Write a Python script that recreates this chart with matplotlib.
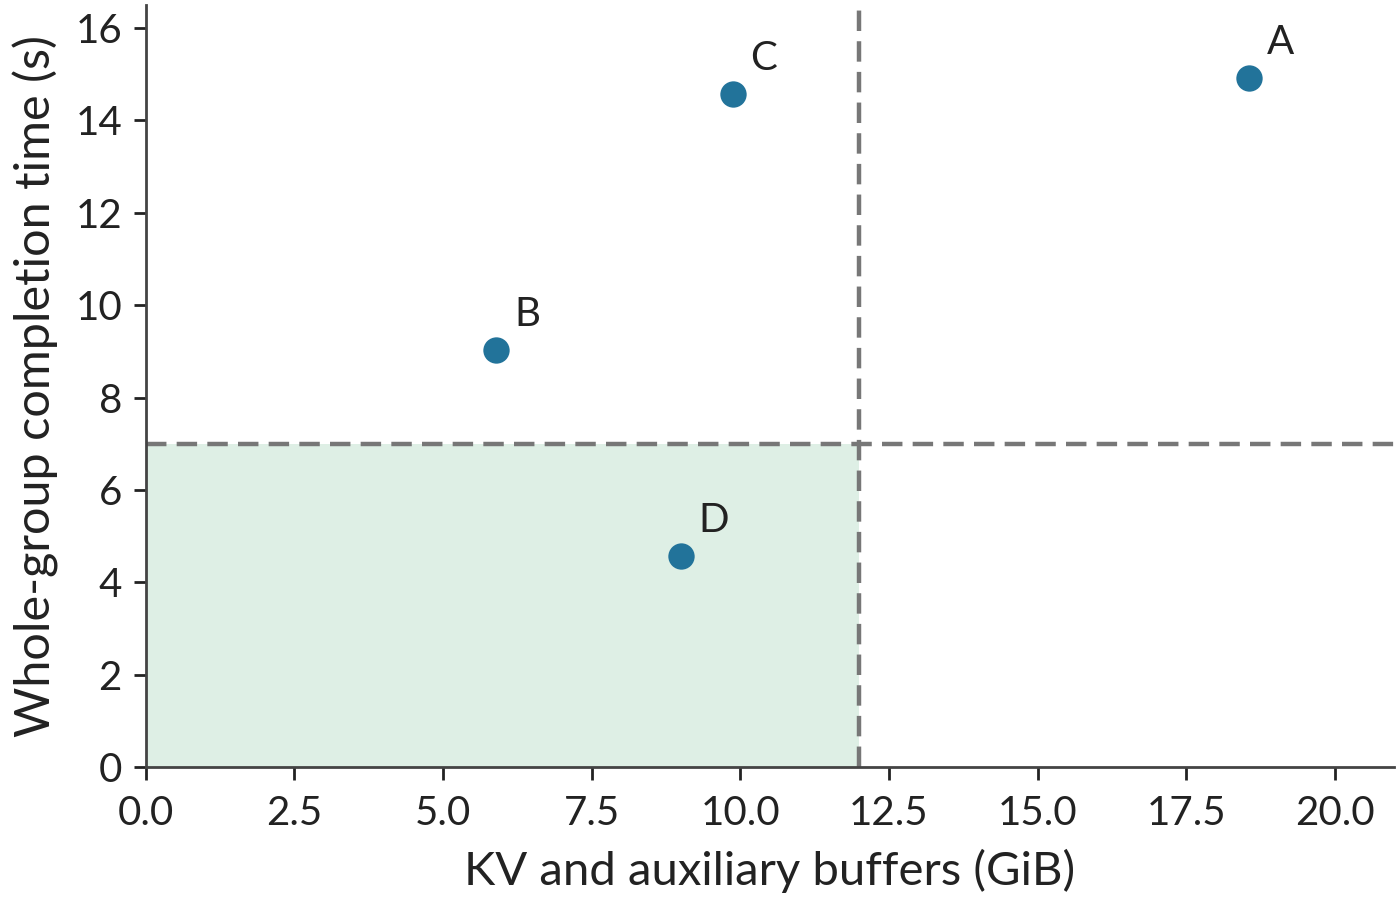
import matplotlib
matplotlib.use("Agg")
from matplotlib import pyplot as plt

plt.rcParams['font.family'] = ['Lato', 'DejaVu Sans']

# data
names = ['A', 'B', 'C', 'D']
mem_gib = [18.55, 5.9, 9.87, 9.0]
time_s = [14.92, 9.03, 14.57, 4.57]
mem_limit = 12.0
time_limit = 7.0

x_ticks = [0.0, 2.5, 5.0, 7.5, 10.0, 12.5, 15.0, 17.5, 20.0]
y_ticks = [0, 2, 4, 6, 8, 10, 12, 14, 16]

fig = plt.figure(figsize=(14, 9.08), dpi=100)
ax = fig.add_axes([0.104, 0.155, 0.892, 0.8395])

ax.fill_between([0, mem_limit], 0, time_limit, color='#deefe5', zorder=0, linewidth=0)
ax.axvline(mem_limit, color='#777777', lw=3.2, ls=(0, (4.6, 2.3)), zorder=1)
ax.axhline(time_limit, color='#777777', lw=3.2, ls=(0, (4.6, 2.3)), zorder=1)

ax.scatter(mem_gib, time_s, s=360, color='#22739a', linewidths=0, zorder=3)
for n, x, y in zip(names, mem_gib, time_s):
    ax.annotate(n, (x, y), xytext=(13, 12), textcoords='offset points',
                ha='left', va='bottom', fontsize=29, color='#222222')

ax.set_xlim(0, 21)
ax.set_ylim(0, 16.5)
ax.set_xticks(x_ticks)
ax.set_xticklabels([f'{t:.1f}' for t in x_ticks])
ax.set_yticks(y_ticks)

ax.set_xlabel('KV and auxiliary buffers (GiB)', fontsize=34, color='#222222', labelpad=12)
ax.set_ylabel('Whole-group completion time (s)', fontsize=35, color='#222222', labelpad=12)

for side in ['top', 'right']:
    ax.spines[side].set_visible(False)
for side in ['left', 'bottom']:
    ax.spines[side].set_color('#444444')
    ax.spines[side].set_linewidth(2)
ax.tick_params(axis='both', length=9, width=2, color='#222222', labelsize=29,
               labelcolor='#222222')
ax.tick_params(axis='x', pad=11)
ax.tick_params(axis='y', pad=8)

fig.savefig('out.png', dpi=100)
